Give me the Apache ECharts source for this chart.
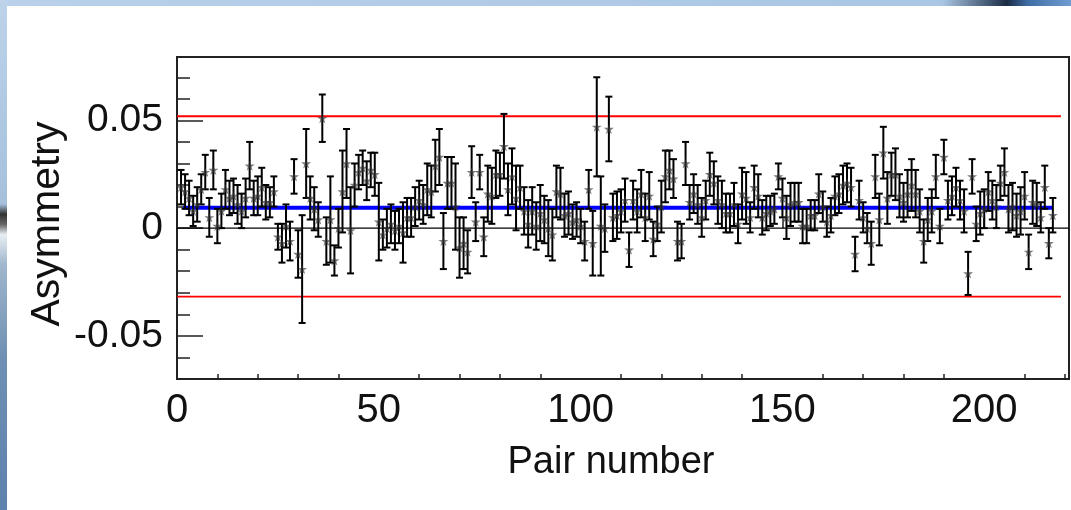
<!DOCTYPE html>
<html>
<head>
<meta charset="utf-8">
<script src="https://cdn.jsdelivr.net/npm/echarts@6/dist/echarts.min.js"></script>
<style>
    html, body { margin: 0; padding: 0; width: 1071px; height: 510px; overflow: hidden; background: #fff; }
    #topStrip { position: absolute; left: 0; top: 0; width: 1071px; height: 6px;
        background: linear-gradient(to right, #b9d1ea 0%, #aac6e4 88%, #1a2c44 94%, #3f6ea6 96%, #6f9dd2 100%); }
    #leftStrip { position: absolute; left: 0; top: 0; width: 7px; height: 510px;
        background: linear-gradient(to bottom, #bcd3ea 0%, #a6c0dc 40%, #333 42%, #666 44%, #e8eef2 46%, #9fb6cc 52%, #6f90b4 70%, #5d82ad 100%); }
    #main { position: absolute; left: 0; top: 0; width: 1071px; height: 510px; }
</style>
</head>
<body>
<div id="topStrip"></div>
<div id="leftStrip"></div>
<div id="main"></div>
<script>
// asymmetry per pair
var asymmetry = [
    0.019, 0.017, 0.014, 0.008, 0.011, 0.018, 0.026, 0.005, 0.027, 0.001,
    0.008, 0.018, 0.014, 0.015, 0.011, 0.008, 0.014, 0.029, 0.014, 0.015,
    0.019, 0.012, 0.012, 0.017, -0.004, -0.007, 0.001, -0.006, 0.024, -0.012,
    -0.019, 0.030, 0.014, 0.009, 0.004, 0.051, -0.006, 0.004, -0.015, 0.000,
    0.017, 0.030, -0.001, 0.020, 0.026, 0.028, 0.022, 0.027, 0.025, 0.003,
    -0.003, 0.000, 0.002, -0.001, 0.001, -0.002, 0.005, 0.005, 0.010, 0.013,
    0.011, 0.018, 0.017, 0.029, 0.033, -0.006, 0.021, 0.021, 0.010, -0.009,
    -0.007, -0.011, 0.026, 0.003, 0.026, -0.004, 0.016, 0.015, 0.025, 0.025,
    0.038, 0.018, 0.024, 0.014, 0.019, 0.008, 0.002, 0.008, 0.001, 0.007,
    0.004, 0.000, -0.003, 0.017, 0.016, 0.006, 0.007, 0.003, 0.004, 0.001,
    -0.006, 0.018, -0.007, 0.047, 0.001, 0.000, 0.046, 0.005, 0.006, 0.008,
    0.013, -0.010, 0.013, 0.008, 0.016, 0.005, 0.015, -0.005, 0.002, 0.010,
    0.024, 0.027, 0.023, -0.006, -0.006, 0.030, 0.012, 0.016, 0.011, 0.005,
    0.013, 0.025, 0.021, 0.013, 0.011, 0.007, 0.007, 0.011, 0.002, 0.016,
    0.014, 0.005, 0.019, 0.015, 0.005, 0.007, 0.008, 0.009, 0.024, 0.014,
    0.005, 0.011, 0.012, 0.012, 0.001, 0.001, 0.006, 0.006, 0.016, 0.010,
    0.003, 0.006, 0.015, 0.016, 0.020, 0.021, 0.019, -0.012, 0.013, 0.005,
    0.000, -0.007, 0.024, 0.004, 0.035, 0.014, 0.025, 0.025, 0.015, 0.012,
    0.016, 0.020, 0.016, 0.008, -0.006, 0.004, 0.008, 0.024, 0.001, 0.033,
    0.013, 0.015, 0.019, 0.013, 0.008, -0.021, 0.024, 0.002, 0.007, 0.009,
    0.017, 0.013, 0.010, 0.021, 0.026, 0.009, 0.010, 0.006, 0.008, 0.015,
    -0.011, 0.012, 0.011, 0.005, 0.019, -0.007, 0.006
];

// statistical error per pair
var asymError = [
    0.008, 0.008, 0.008, 0.007, 0.008, 0.007, 0.008, 0.009, 0.009, 0.008,
    0.008, 0.009, 0.008, 0.008, 0.009, 0.008, 0.009, 0.011, 0.008, 0.009,
    0.009, 0.008, 0.007, 0.007, 0.006, 0.009, 0.010, 0.009, 0.008, 0.011,
    0.025, 0.016, 0.010, 0.010, 0.008, 0.011, 0.011, 0.020, 0.007, 0.009,
    0.019, 0.016, 0.020, 0.010, 0.008, 0.008, 0.009, 0.008, 0.010, 0.018,
    0.007, 0.009, 0.009, 0.009, 0.008, 0.014, 0.009, 0.009, 0.009, 0.009,
    0.009, 0.012, 0.012, 0.012, 0.013, 0.013, 0.012, 0.012, 0.020, 0.014,
    0.012, 0.010, 0.012, 0.009, 0.008, 0.009, 0.013, 0.013, 0.011, 0.010,
    0.015, 0.012, 0.013, 0.015, 0.010, 0.011, 0.011, 0.011, 0.011, 0.013,
    0.011, 0.013, 0.012, 0.012, 0.012, 0.010, 0.010, 0.008, 0.008, 0.008,
    0.009, 0.009, 0.015, 0.023, 0.023, 0.011, 0.015, 0.011, 0.011, 0.010,
    0.010, 0.008, 0.009, 0.010, 0.011, 0.011, 0.011, 0.008, 0.008, 0.012,
    0.012, 0.009, 0.009, 0.009, 0.008, 0.010, 0.008, 0.009, 0.009, 0.009,
    0.009, 0.010, 0.010, 0.011, 0.011, 0.009, 0.009, 0.010, 0.009, 0.012,
    0.012, 0.007, 0.010, 0.010, 0.008, 0.008, 0.007, 0.007, 0.006, 0.009,
    0.010, 0.010, 0.009, 0.009, 0.008, 0.008, 0.007, 0.007, 0.009, 0.007,
    0.007, 0.008, 0.009, 0.009, 0.009, 0.009, 0.009, 0.008, 0.009, 0.007,
    0.007, 0.010, 0.010, 0.012, 0.012, 0.012, 0.010, 0.012, 0.010, 0.009,
    0.011, 0.012, 0.011, 0.010, 0.010, 0.010, 0.010, 0.010, 0.008, 0.008,
    0.009, 0.009, 0.009, 0.009, 0.010, 0.010, 0.008, 0.008, 0.010, 0.009,
    0.009, 0.009, 0.010, 0.008, 0.011, 0.011, 0.011, 0.010, 0.011, 0.011,
    0.008, 0.010, 0.010, 0.007, 0.010, 0.007, 0.008
];

var pairNumbers = asymmetry.map(function (v, k) { return k + 1; });

// reference lines
var meanAsym = 0.0094;
var upperCut = 0.0519;
var lowerCut = -0.0318;
var cutLineX = [0, 219];
var meanLineX = [1.5, 217];

// axes
var xRange = [0, 221];
var yRange = [-0.07, 0.0794];
var xMajorTicks = [0, 50, 100, 150, 200];
var xMinorTicks = [10, 20, 30, 40, 60, 70, 80, 90, 110, 120, 130, 140, 160, 170, 180, 190, 210, 220];
var yMajorTicks = [-0.05, 0, 0.05];
var yMinorTicks = [-0.06, -0.04, -0.03, -0.02, -0.01, 0.01, 0.02, 0.03, 0.04, 0.06, 0.07];
var xTitle = 'Pair number';
var yTitle = 'Asymmetry';

var FONT = '"Liberation Sans", Arial, Helvetica, sans-serif';
var STAR = 'path://M50,0 L61,35 L98,35 L68,57 L79,91 L50,70 L21,91 L32,57 L2,35 L39,35 Z';

var myChart = echarts.init(document.getElementById('main'));

var points = pairNumbers.map(function (p, k) { return [p, asymmetry[k], asymError[k]]; });
var markers = pairNumbers.map(function (p, k) { return [p, asymmetry[k]]; });

function flatLine(xs, y) {
    return [[xs[0], y], [xs[1], y]];
}

var option = {
    animation: false,
    backgroundColor: 'transparent',
    grid: {
        left: 177, right: 2, top: 57, bottom: 131,
        show: true, borderColor: '#222', borderWidth: 2, backgroundColor: 'transparent'
    },
    xAxis: [{
        type: 'value', min: xRange[0], max: xRange[1], position: 'bottom',
        axisLine: { show: true, onZero: false, lineStyle: { color: '#222', width: 2 } },
        axisTick: { show: true, inside: true, length: 5, customValues: xMinorTicks, lineStyle: { color: '#222', width: 1.5 } },
        axisLabel: { customValues: xMajorTicks, margin: 12, fontSize: 40, color: '#111', fontFamily: FONT },
        splitLine: { show: false }
    }, {
        type: 'value', min: xRange[0], max: xRange[1], position: 'bottom',
        axisLine: { show: false },
        axisTick: { show: true, inside: true, length: 10, customValues: xMajorTicks, lineStyle: { color: '#222', width: 1.5 } },
        axisLabel: { show: false },
        splitLine: { show: false }
    }],
    yAxis: [{
        type: 'value', min: yRange[0], max: yRange[1], position: 'left',
        axisLine: { show: true, onZero: false, lineStyle: { color: '#222', width: 2 } },
        axisTick: { show: true, inside: true, length: 13, customValues: yMinorTicks, lineStyle: { color: '#222', width: 1.5 } },
        axisLabel: {
            customValues: yMajorTicks, margin: 14, fontSize: 39, color: '#111', fontFamily: FONT,
            formatter: function (v) { return v === 0 ? '0' : v.toFixed(2); }
        },
        splitLine: { show: false }
    }, {
        type: 'value', min: yRange[0], max: yRange[1], position: 'left',
        axisLine: { show: false },
        axisTick: { show: true, inside: true, length: 26, customValues: yMajorTicks, lineStyle: { color: '#222', width: 1.5 } },
        axisLabel: { show: false },
        splitLine: { show: false }
    }],
    graphic: [{
        type: 'text', x: 611, y: 463,
        style: { text: xTitle, font: '38px ' + FONT, fill: '#111', align: 'center', verticalAlign: 'middle' }
    }, {
        type: 'text', x: 48, y: 224, rotation: Math.PI / 2,
        style: { text: yTitle, font: '41px ' + FONT, fill: '#111', align: 'center', verticalAlign: 'middle' }
    }],
    series: [{
        name: 'zero', type: 'line', z: 1, symbol: 'none', silent: true,
        data: flatLine(xRange, 0),
        lineStyle: { color: '#000', width: 1.3 }
    }, {
        name: 'upper', type: 'line', z: 1, symbol: 'none', silent: true,
        data: flatLine(cutLineX, upperCut),
        lineStyle: { color: '#ff0000', width: 1.8 }
    }, {
        name: 'lower', type: 'line', z: 1, symbol: 'none', silent: true,
        data: flatLine(cutLineX, lowerCut),
        lineStyle: { color: '#ff0000', width: 1.8 }
    }, {
        name: 'mean', type: 'line', z: 2, symbol: 'none', silent: true,
        data: flatLine(meanLineX, meanAsym),
        lineStyle: { color: '#0000ff', width: 4 }
    }, {
        name: 'errors', type: 'custom', z: 3,
        encode: { x: 0, y: 1 },
        data: points,
        renderItem: function (params, api) {
            var x = api.value(0), v = api.value(1), e = api.value(2);
            var hi = api.coord([x, v + e]);
            var lo = api.coord([x, v - e]);
            var cap = 3.5;
            var st = { stroke: '#000', lineWidth: 2 };
            return {
                type: 'group',
                children: [
                    { type: 'line', shape: { x1: hi[0], y1: hi[1], x2: lo[0], y2: lo[1] }, style: st },
                    { type: 'line', shape: { x1: hi[0] - cap, y1: hi[1], x2: hi[0] + cap, y2: hi[1] }, style: st },
                    { type: 'line', shape: { x1: lo[0] - cap, y1: lo[1], x2: lo[0] + cap, y2: lo[1] }, style: st }
                ]
            };
        }
    }, {
        name: 'asymmetry', type: 'scatter', z: 4,
        symbol: STAR, symbolSize: 10,
        itemStyle: { color: 'rgba(50,50,50,0.8)' },
        data: markers
    }]
};

myChart.setOption(option);
</script>
</body>
</html>
